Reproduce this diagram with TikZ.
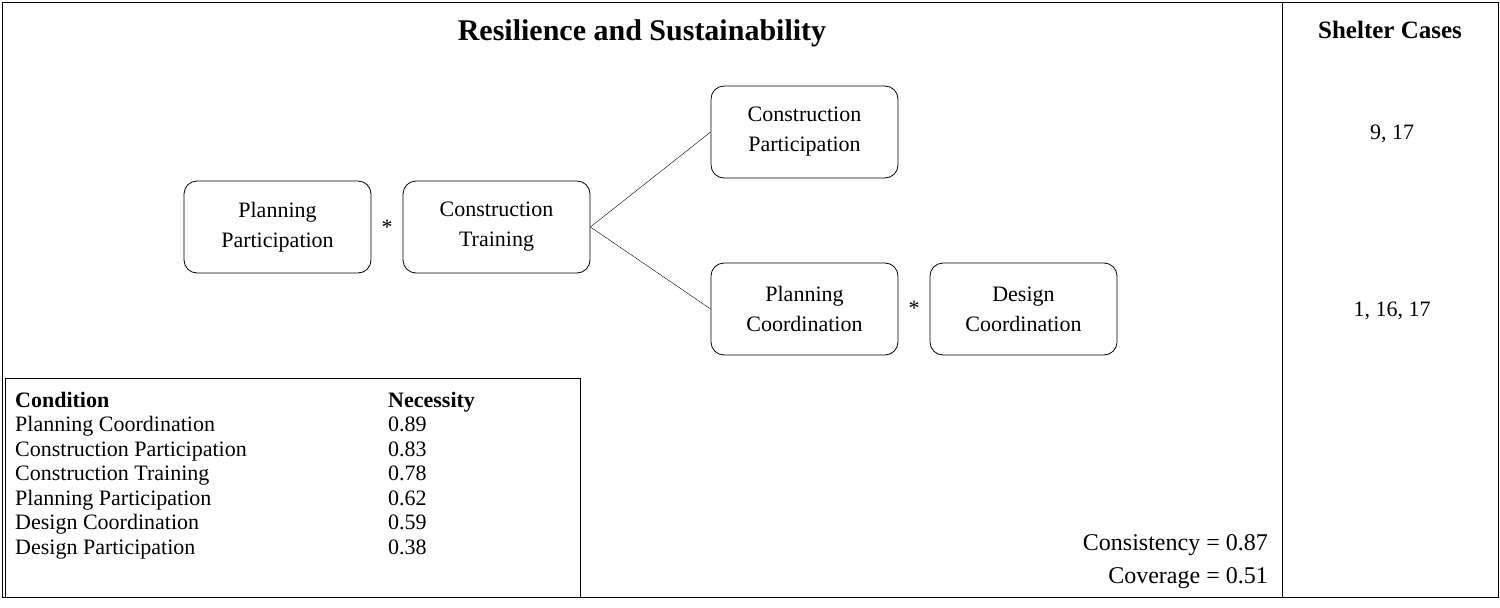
\documentclass[tikz,border=0pt]{standalone}
\usepackage{fontspec}
\setmainfont{Liberation Serif}
\begin{document}
\begin{tikzpicture}[x=1pt,y=-1pt,
  fbox/.style={draw,rounded corners=13pt,minimum width=187pt,minimum height=92pt,align=center,font=\fontsize{22}{30}\selectfont,line width=0.8pt,inner sep=0pt},
  txt/.style={font=\fontsize{22}{24}\selectfont,inner sep=0pt},
  ttl/.style={font=\fontsize{30}{32}\selectfont\bfseries,inner sep=0pt}]
\useasboundingbox (0,0) rectangle (1500,608);
\draw[line width=0.8pt] (2,2) rectangle (1498,597);
\draw[line width=0.8pt] (1282,2) -- (1282,597);
\node[ttl] (title) at (642,33) {Resilience and Sustainability};
\node[ttl,font=\fontsize{25}{28}\selectfont\bfseries] (sc) at (1390,30) {Shelter Cases};
\node[fbox] (pp) at (277.5,227) {Planning\\Participation};
\node[fbox] (ct) at (496.5,227) {Construction\\Training};
\node[fbox] (cp) at (804.5,132) {Construction\\Participation};
\node[fbox] (pc) at (804.5,309) {Planning\\Coordination};
\node[fbox] (dc) at (1023.5,309) {Design\\Coordination};
\node[txt] (s1) at (387,227) {*};
\node[txt] (s2) at (914,308) {*};
\draw (ct.east) -- (cp.west);
\draw (ct.east) -- (pc.west);
\node[txt] (c1) at (1392,134) {9, 17};
\node[txt] (c2) at (1392,311) {1, 16, 17};
\draw[line width=0.8pt] (5,378) rectangle (580,597);
\node[txt,anchor=base west,font=\fontsize{22}{24}\selectfont\bfseries] (h1) at (15,407) {Condition};
\node[txt,anchor=base west,font=\fontsize{22}{24}\selectfont\bfseries] (h2) at (388,407) {Necessity};
\foreach \n/\v [count=\i] in {Planning Coordination/0.89,Construction Participation/0.83,Construction Training/0.78,Planning Participation/0.62,Design Coordination/0.59,Design Participation/0.38}{
  \node[txt,anchor=base west,font=\fontsize{22}{24}\selectfont] (r\i) at (15,407+24.5*\i) {\n};
  \node[txt,anchor=base west,font=\fontsize{22}{24}\selectfont] (v\i) at (388,407+24.5*\i) {\v};
}
\node[txt,anchor=east,font=\fontsize{24}{26}\selectfont] (cons) at (1268,545) {Consistency = 0.87};
\node[txt,anchor=east,font=\fontsize{24}{26}\selectfont] (cov) at (1268,578) {Coverage = 0.51};
\end{tikzpicture}
\end{document}
